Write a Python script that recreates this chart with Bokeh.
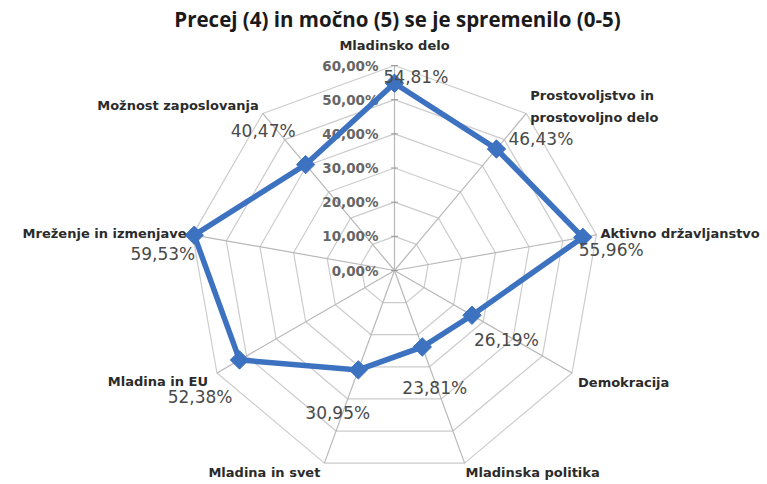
import numpy as np
from bokeh.plotting import figure
from bokeh.models import Range1d, Label
from bokeh.embed import file_html
from bokeh.resources import INLINE
from bokeh.core.properties import value

# ---- data ----
categories = ["Mladinsko delo", "Prostovoljstvo in\nprostovoljno delo", "Aktivno državljanstvo",
              "Demokracija", "Mladinska politika", "Mladina in svet", "Mladina in EU",
              "Mreženje in izmenjave", "Možnost zaposlovanja"]
values = [54.81, 46.43, 55.96, 26.19, 23.81, 30.95, 52.38, 59.53, 40.47]
value_labels = ["54,81%", "46,43%", "55,96%", "26,19%", "23,81%", "30,95%", "52,38%", "59,53%", "40,47%"]
ticks = [0, 10, 20, 30, 40, 50, 60]
tick_labels = ["0,00%", "10,00%", "20,00%", "30,00%", "40,00%", "50,00%", "60,00%"]
title_text = "Precej (4) in močno (5) se je spremenilo (0-5)"

# ---- layout / style ----
W, H = 767, 484
CX, CY = 394, 270           # centre in figure pixels (from top-left)
RMAX = max(ticks)
S = 205 / RMAX              # pixels per percent

# label placement (pixel offsets, alignment)
val_off = [(-11, -6, "left"), (12, -10, "left"), (-4, 13, "left"), (2, 25, "left"),
           (-20, 41, "left"), (-53, 43, "left"), (-7, 37, "right"), (1, 19, "right"),
           (-10, -34, "right")]
cat_off = [(0, -20, "center"), (4, -7, "left"), (4, -1, "left"), (6, 9, "left"),
           (1, 9, "left"), (-4, 9, "right"), (-9, 8, "right"), (-6, -1, "right"),
           (-4, -8, "right")]

LINE_COLOR = "#3D72C1"
GRID_COLOR = "#CCCCCC"
SPOKE_COLOR = "#B8B8B8"

n = len(categories)
theta = np.arange(n) * 2 * np.pi / n

p = figure(width=W, height=H, output_backend="svg", toolbar_location=None,
           x_range=Range1d(-CX / S, (W - CX) / S), y_range=Range1d(-(H - CY) / S, CY / S),
           min_border=0, outline_line_color=None)
p.axis.visible = False
p.grid.visible = False

# rings
for t in ticks[1:]:
    xs = list(t * np.sin(theta)) + [0]
    ys = list(t * np.cos(theta)) + [0]
    xs[-1], ys[-1] = xs[0], ys[0]
    p.line(xs, ys, line_color=GRID_COLOR, line_width=1.2)
# spokes
p.multi_line([[0, RMAX * np.sin(a)] for a in theta], [[0, RMAX * np.cos(a)] for a in theta],
             line_color=SPOKE_COLOR, line_width=1.2)
# small ticks on vertical axis
p.segment(x0=[-1.0] * len(ticks), y0=ticks, x1=[1.0] * len(ticks), y1=ticks,
          line_color="#999999", line_width=1)

# tick labels
p.text(x=[0] * len(ticks), y=ticks, text=tick_labels, x_offset=-16,
       text_align="right", text_baseline="middle", text_font=value("DejaVu Sans"),
       text_font_size="13.5px", text_font_style="bold", text_color="#666666")

# data line
vx = [v * np.sin(a) for v, a in zip(values, theta)]
vy = [v * np.cos(a) for v, a in zip(values, theta)]
p.line(vx + [vx[0]], vy + [vy[0]], line_color=LINE_COLOR, line_width=5.5, line_join="miter")
p.scatter(vx, vy, marker="square", angle=np.pi / 4, size=13, fill_color=LINE_COLOR,
          line_color=LINE_COLOR)

# value labels
for i in range(n):
    xo, yo, al = val_off[i]
    p.text(x=[vx[i]], y=[vy[i]], text=[value_labels[i]], x_offset=xo, y_offset=yo,
           text_align=al, text_baseline="middle", text_font=value("DejaVu Sans"),
           text_font_size="17px", text_color="#4A4A4A")

# category labels
for i in range(n):
    xo, yo, al = cat_off[i]
    cx = RMAX * np.sin(theta[i])
    cy = RMAX * np.cos(theta[i])
    p.text(x=[cx], y=[cy], text=[categories[i]], x_offset=xo, y_offset=yo,
           text_align=al, text_baseline="middle", text_font=value("DejaVu Sans"),
           text_font_size="13px", text_font_style="bold", text_color="#2B2B2B",
           text_line_height=1.45)

# title
p.add_layout(Label(x=397, y=H - 18, x_units="screen", y_units="screen", text=title_text,
                   text_align="center", text_baseline="middle", text_font="Open Sans",
                   text_font_size="20.5px", text_font_style="bold", text_color="#1A1A1A"))

open("out.html", "w").write(file_html(p, INLINE))
